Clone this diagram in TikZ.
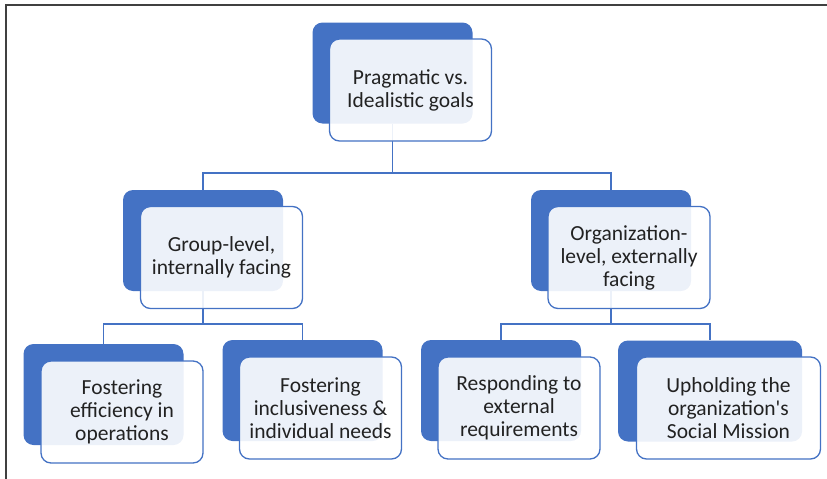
\documentclass[tikz,border=0pt]{standalone}
\usepackage{fontspec}
\setmainfont{Carlito}
\definecolor{accent}{HTML}{4472C4}
\definecolor{ink}{HTML}{222222}
\definecolor{framegray}{HTML}{404040}
\begin{document}
\begin{tikzpicture}[x=1pt,y=-1pt,
  backbox/.style={draw=none, fill=accent, rounded corners=10pt, inner sep=0pt,
    minimum width=160pt, minimum height=101pt},
  frontbox/.style={draw=accent, line width=1.3pt, fill=white, fill opacity=0.9,
    text opacity=1, rounded corners=10pt, inner sep=0pt,
    minimum width=162pt, minimum height=102pt, align=center, text=ink,
    font=\fontsize{21.5}{23}\selectfont},
  link/.style={draw=accent, line width=1.3pt}]
\useasboundingbox (0,0) rectangle (827,479);
% frame lines along the top and left edges
\draw[framegray, line width=1.6pt] (6,479) -- (6,5) -- (827,5);

% back (solid) rectangles
\node[backbox] (topB) at (392.5,73) {};
\node[backbox] (grpB) at (203,240.5) {};
\node[backbox] (orgB) at (611,240.5) {};
\node[backbox] (effB) at (103.5,394.5) {};
\node[backbox] (incB) at (302.5,390.5) {};
\node[backbox] (resB) at (501,390.5) {};
\node[backbox, minimum width=184pt] (misB) at (710,391) {};

% tree connectors
\coordinate (busA) at (0,173);
\coordinate (busB) at (0,324);
\draw[link] (topB.south) -- (topB.south |- busA) -| (grpB.north);
\draw[link] (topB.south |- busA) -| (orgB.north);
\draw[link] (grpB.south) -- (grpB.south |- busB) -| (effB.north);
\draw[link] (grpB.south |- busB) -| (incB.north);
\draw[link] (orgB.south) -- (orgB.south |- busB) -| (resB.north);
\draw[link] (orgB.south |- busB) -| (misB.north);

% front (translucent) text boxes
\node[frontbox] (top) at (410.5,90) {Pragmatic vs.\\Idealistic goals};
\node[frontbox] (grp) at (221.5,257.5) {Group-level,\\internally facing};
\node[frontbox] (org) at (629,257.5) {Organization-\\level, externally\\facing};
\node[frontbox] (eff) at (122,412) {Fostering\\efficiency in\\operations};
\node[frontbox] (inc) at (320.5,408) {Fostering\\inclusiveness \&\\individual needs};
\node[frontbox] (res) at (519,408) {Responding to\\external\\requirements};
\node[frontbox, minimum width=184pt] (mis) at (728.5,408) {Upholding the\\organization\textquotesingle s\\Social Mission};
\end{tikzpicture}
\end{document}
